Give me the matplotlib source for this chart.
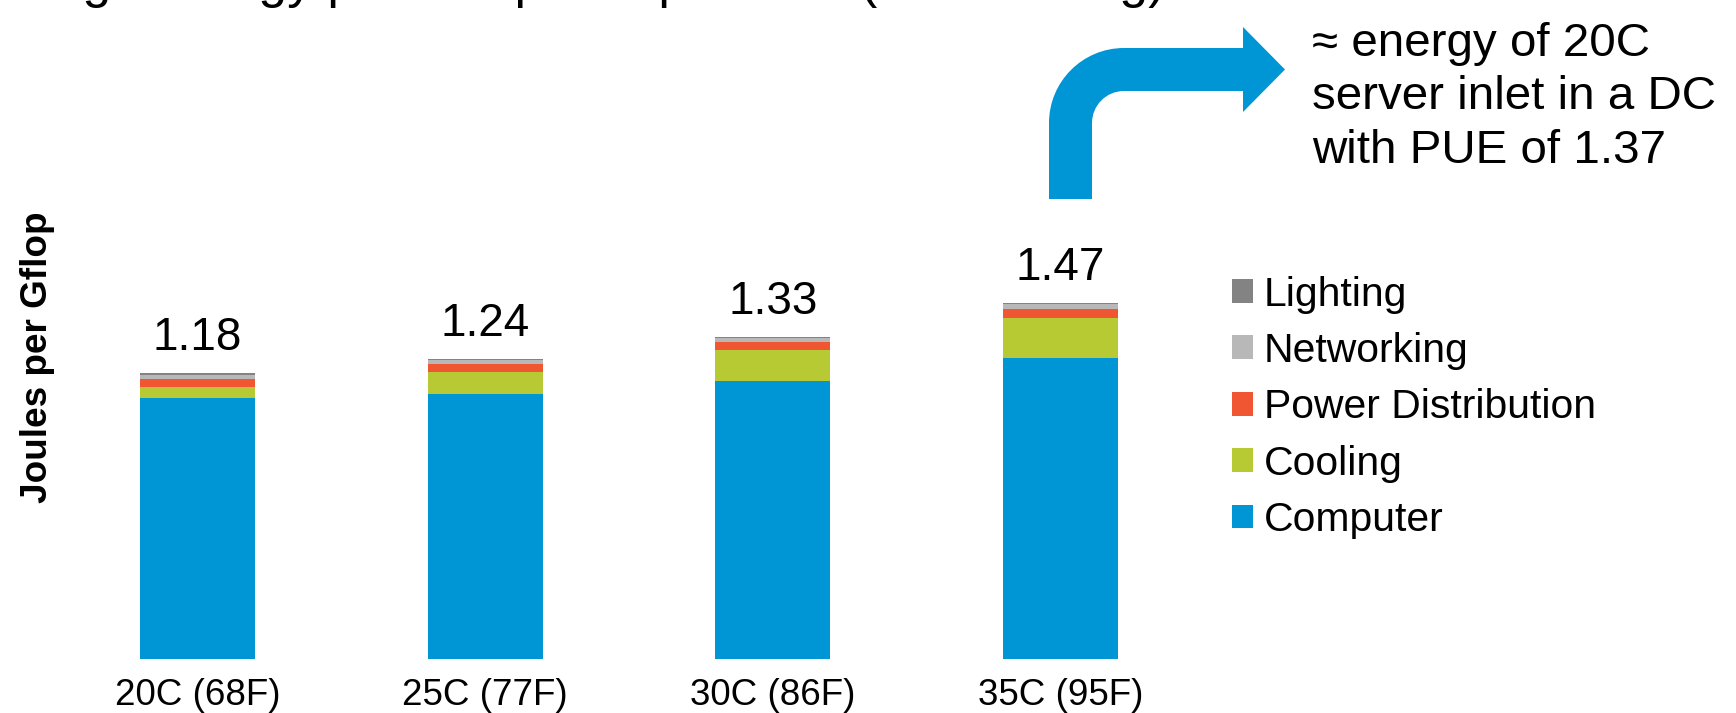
import matplotlib
matplotlib.use("Agg")
import matplotlib.pyplot as plt
import numpy as np
from matplotlib.patches import PathPatch
from matplotlib.path import Path

plt.rcParams['font.family'] = ['Liberation Sans', 'DejaVu Sans']

# energy split per server inlet temperature (Joules per Gflop)
inlet_temps = ['20C (68F)', '25C (77F)', '30C (86F)', '35C (95F)']
computer = [1.080, 1.096, 1.150, 1.242]
cooling = [0.044, 0.090, 0.125, 0.169]
power_dist = [0.033, 0.033, 0.033, 0.036]
networking = [0.018, 0.016, 0.017, 0.018]
lighting = [0.005, 0.005, 0.005, 0.005]
totals = [1.18, 1.24, 1.33, 1.47]

W, H = 1736, 713
fig = plt.figure(figsize=(W / 100, H / 100), dpi=100)


def fx(px):
    return px / W


def fy(py):
    # py measured from the top edge
    return (H - py) / H


ax = fig.add_axes([fx(53.7), 54 / H, fx(1150.6), 484 / H])

layers = [
    ('Computer', computer, '#0096D6'),
    ('Cooling', cooling, '#B8CA33'),
    ('Power Distribution', power_dist, '#F15632'),
    ('Networking', networking, '#B8B8B8'),
    ('Lighting', lighting, '#838383'),
]

x = np.arange(len(inlet_temps))
bottom = np.zeros(len(x))
for name, vals, col in layers:
    ax.bar(x, vals, 0.4, bottom=bottom, color=col, label=name, linewidth=0)
    bottom += np.array(vals)

for xi, top, t in zip(x, bottom, totals):
    ax.annotate(f'{t:.2f}', (xi, top), xytext=(0, 16.8), textcoords='offset points',
                ha='center', va='baseline', fontsize=33)

ax.set_xlim(-0.5, 3.5)
ax.set_ylim(0, 2.0)
ax.set_xticks(x)
ax.set_xticklabels(inlet_temps, fontsize=26.5)
ax.tick_params(axis='x', length=0, pad=14)
ax.set_yticks([])
for s in ax.spines.values():
    s.set_visible(False)

fig.text(fx(38), fy(357), 'Joules per Gflop', rotation=90, ha='center', va='center',
         fontsize=26.6, fontweight='bold')

handles, labels = ax.get_legend_handles_labels()
ax.legend(handles[::-1], labels[::-1], loc='upper left',
          bbox_to_anchor=(fx(1232), fy(275.5)), bbox_transform=fig.transFigure,
          frameon=False, fontsize=29.4, handlelength=0.52, handleheight=0.52,
          handletextpad=0.26, labelspacing=0.45, borderpad=0, borderaxespad=0)

# bent arrow pointing to the note
k = 0.5523
ro, ri = 75, 32
cx, cy = 1124, 123
pts = [
    (1049, 199), (1049, cy),
    (1049, cy - k * ro), (cx - k * ro, 48), (cx, 48),
    (1243, 48), (1243, 27), (1285, 69.5), (1243, 112), (1243, 91),
    (cx, 91),
    (cx - k * ri, 91), (1092, cy - k * ri), (1092, cy),
    (1092, 199), (1049, 199),
]
codes = [Path.MOVETO, Path.LINETO,
         Path.CURVE4, Path.CURVE4, Path.CURVE4,
         Path.LINETO, Path.LINETO, Path.LINETO, Path.LINETO, Path.LINETO,
         Path.LINETO,
         Path.CURVE4, Path.CURVE4, Path.CURVE4,
         Path.LINETO, Path.CLOSEPOLY]
arrow = Path([(fx(a), fy(b)) for a, b in pts], codes)
fig.patches.append(PathPatch(arrow, transform=fig.transFigure, facecolor='#0096D6',
                             edgecolor='none'))

fig.text(fx(1312), fy(163), '≈ energy of 20C\nserver inlet in a DC\nwith PUE of 1.37',
         ha='left', va='baseline', fontsize=34.2, linespacing=1.28,
         multialignment='left')

fig.text(fx(-52), fy(-2.5), 'Average energy per compute operation (incl. cooling)',
         ha='left', va='baseline', fontsize=37.3)

fig.savefig('out.png', dpi=100)
